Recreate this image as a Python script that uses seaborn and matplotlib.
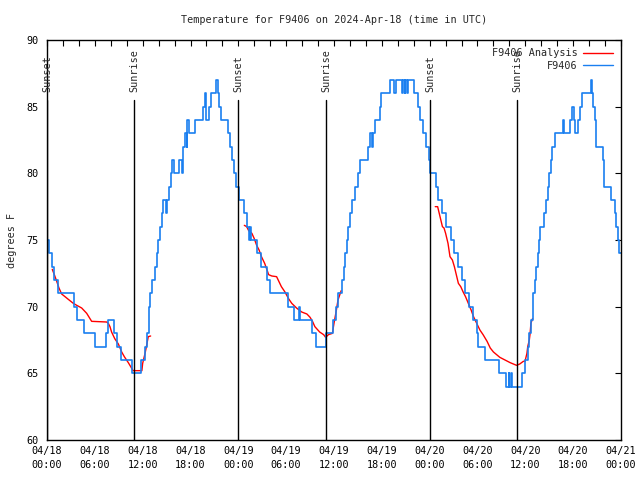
import matplotlib
matplotlib.use("Agg")
import matplotlib.pyplot as plt
import matplotlib.transforms as mtransforms
import seaborn as sns
import pandas as pd

# ---- data (hours since 2024-04-18 00:00 UTC) ----
obs_hours = [0.0, 0.3, 0.6, 0.9, 1.4, 3.4, 3.8, 4.7, 6.0, 7.35, 7.6, 8.4, 8.8, 9.3, 10.6,
             11.85, 12.3, 12.6, 12.75, 12.95, 13.2, 13.5, 13.75, 13.9, 14.2, 14.45, 14.6, 14.9,
             15.1, 15.3, 15.5, 15.7, 15.9, 16.6, 16.9, 17.1, 17.3, 17.5, 17.6, 17.8, 18.6, 19.6,
             19.85, 20.0, 20.3, 20.6, 21.2, 21.4, 21.6, 21.8, 22.7, 23.0, 23.2, 23.45, 23.7,
             24.1, 24.75, 25.1, 25.3, 25.5, 25.6, 26.4, 26.9, 27.6, 28.0, 30.2, 31.0, 31.6, 31.75,
             33.2, 33.7, 35.0, 35.9, 36.3, 36.5, 37.0, 37.2, 37.4, 37.6, 37.8, 38.0, 38.2, 38.6,
             39.05, 39.3, 40.3, 40.5, 40.8, 40.9, 41.1, 41.8, 41.9, 43.0, 43.5, 43.75, 44.5, 44.65,
             44.85, 44.95, 45.15, 45.3, 46.0, 46.5, 46.8, 47.2, 47.5, 47.9, 48.1, 48.75, 49.0,
             49.5, 50.1, 50.7, 51.1, 51.6, 52.1, 52.4, 52.9, 53.4, 53.9, 54.1, 55.0, 56.65, 57.6,
             57.9, 58.0, 58.2, 58.3, 59.6, 60.0, 60.3, 60.5, 60.7, 60.9, 61.0, 61.2, 61.4, 61.6,
             61.75, 61.9, 62.3, 62.6, 62.8, 63.0, 63.2, 63.4, 63.7, 64.7, 64.9, 65.6, 65.9, 66.1,
             66.2, 66.6, 66.9, 67.1, 68.2, 68.4, 68.5, 68.7, 68.9, 69.7, 69.9, 70.7, 71.2, 71.4,
             71.6, 71.8, 72.0]
obs_temps = [75, 74, 73, 72, 71, 70, 69, 68, 67, 68, 69, 68, 67, 66, 65,
             66, 67, 68, 70, 71, 72, 73, 74, 75, 76, 77, 78, 77,
             78, 79, 80, 81, 80, 81, 80, 82, 83, 82, 84, 83, 84, 85,
             86, 84, 85, 86, 87, 86, 85, 84, 83, 82, 81, 80, 79,
             78, 77, 76, 75, 76, 75, 74, 73, 72, 71, 70, 69, 70, 69,
             68, 67, 68, 69, 70, 71, 72, 73, 74, 75, 76, 77, 78, 79,
             80, 81, 82, 83, 82, 83, 84, 85, 86, 87, 86, 87, 86, 87,
             86, 87, 86, 87, 86, 85, 84, 83, 82, 81, 80, 79, 78,
             77, 76, 75, 74, 73, 72, 71, 70, 69, 68, 67, 66, 65, 64,
             65, 64, 65, 64, 65, 66, 67, 68, 69, 70, 71, 72, 73, 74,
             75, 76, 77, 78, 79, 80, 81, 82, 83, 84, 83, 84, 85, 84,
             83, 84, 85, 86, 87, 86, 85, 84, 82, 81, 79, 78, 77, 76,
             75, 74, 74]

ana1_hours = [0.66, 0.92, 1.22, 1.5, 1.84, 2.26, 2.67, 3.3, 3.73, 4.35, 4.98, 5.6, 7.49, 7.69,
              7.9, 8.1, 8.5, 8.95, 9.37, 9.7, 10.2, 10.6, 10.8, 11.9, 12.0, 12.3, 12.5, 12.7, 13.0]
ana1_temps = [72.8, 72.4, 71.9, 71.4, 70.95, 70.75, 70.55, 70.25, 70.1, 69.9, 69.5, 68.9, 68.85, 68.75,
              68.5, 68.1, 67.6, 67.2, 66.6, 66.25, 65.8, 65.4, 65.2, 65.2, 65.75, 66.5, 67.1, 67.75, 67.8]
ana2_hours = [24.75, 25.05, 25.3, 25.7, 26.0, 26.3, 26.6, 26.9, 27.3, 27.6, 27.8, 28.2, 28.8, 29.0,
              29.4, 29.85, 30.3, 30.7, 31.3, 31.95, 32.6, 33.0, 33.3, 33.6, 34.2, 34.7, 34.95, 35.3,
              35.8, 36.0, 36.3, 36.5, 36.9]
ana2_temps = [76.1, 76.0, 75.7, 75.5, 75.1, 74.6, 74.25, 73.75, 73.25, 72.75, 72.4, 72.3, 72.25, 72.0,
              71.5, 71.1, 70.6, 70.25, 69.9, 69.6, 69.45, 69.2, 68.9, 68.5, 68.1, 67.9, 67.7, 67.9,
              68.0, 68.75, 69.75, 70.5, 71.2]
ana3_hours = [48.7, 49.0, 49.2, 49.4, 49.6, 49.8, 50.0, 50.3, 50.55, 50.85, 51.1, 51.4, 51.6, 51.9,
              52.2, 52.5, 52.85, 53.2, 53.5, 53.9, 54.3, 54.7, 55.2, 55.6, 56.0, 56.4, 56.8, 57.45,
              58.1, 58.5, 58.9, 59.3, 59.75, 59.96, 60.2, 60.3, 60.5, 60.6, 60.7, 60.9]
ana3_temps = [77.5, 77.5, 77.0, 76.5, 76.0, 75.9, 75.5, 74.75, 73.75, 73.5, 73.0, 72.25, 71.75, 71.5,
              71.1, 70.75, 70.25, 69.75, 69.25, 68.75, 68.25, 67.9, 67.4, 66.9, 66.6, 66.4, 66.2, 66.0,
              65.8, 65.7, 65.6, 65.7, 65.9, 65.9, 66.5, 67.0, 67.5, 68.0, 68.75, 69.1]

sun_hours = [0.0, 10.92, 23.96, 35.0, 48.06, 58.97]
sun_labels = ["Sunset", "Sunrise", "Sunset", "Sunrise", "Sunset", "Sunrise"]

xtick_hours = [0, 6, 12, 18, 24, 30, 36, 42, 48, 54, 60, 66, 72]
xtick_labels = ["04/18\n00:00", "04/18\n06:00", "04/18\n12:00", "04/18\n18:00",
                "04/19\n00:00", "04/19\n06:00", "04/19\n12:00", "04/19\n18:00",
                "04/20\n00:00", "04/20\n06:00", "04/20\n12:00", "04/20\n18:00",
                "04/21\n00:00"]
ytick_vals = [60, 65, 70, 75, 80, 85, 90]

# ---- frames ----
obs_df = pd.DataFrame({"hour": obs_hours, "temp": obs_temps})
ana_df = pd.concat([
    pd.DataFrame({"hour": ana1_hours, "temp": ana1_temps, "seg": 1}),
    pd.DataFrame({"hour": ana2_hours, "temp": ana2_temps, "seg": 2}),
    pd.DataFrame({"hour": ana3_hours, "temp": ana3_temps, "seg": 3}),
], ignore_index=True)

sns.set_theme(style="white")
FONT = ["DejaVu Sans Mono"]
plt.rcParams["font.family"] = FONT
FS = 7.3

fig = plt.figure(figsize=(6.4, 4.8), dpi=100)
ax = fig.add_axes([47 / 640, 40 / 480, 574 / 640, 400 / 480])

RED = "#ff0000"
BLUE = "#1a7ff0"

sns.lineplot(data=ana_df, x="hour", y="temp", units="seg", estimator=None,
             color=RED, lw=1.0, ax=ax, sort=False)
sns.lineplot(data=obs_df, x="hour", y="temp", color=BLUE, lw=1.2, ax=ax,
             drawstyle="steps-post", estimator=None, sort=False)

trans = mtransforms.blended_transform_factory(ax.transData, ax.transAxes)
for h, lab in zip(sun_hours, sun_labels):
    ax.axvline(h, ymin=0, ymax=0.85, color="black", lw=1.0)
    ax.text(h, 0.87, lab, transform=trans, rotation=90, ha="center", va="bottom",
            fontsize=FS, clip_on=False)

ax.set_xlim(0, 72)
ax.set_ylim(60, 90)
ax.set_xticks(xtick_hours)
ax.set_xticklabels(xtick_labels, fontsize=FS, linespacing=1.6)
ax.set_xticks(list(range(0, 73, 2)), minor=True)
ax.set_yticks(ytick_vals)
ax.set_yticklabels([str(v) for v in ytick_vals], fontsize=FS)
ax.tick_params(axis="both", which="both", direction="in", top=True, right=True,
               length=4, width=0.8, color="black", labelcolor="black", pad=4)
ax.tick_params(axis="y", which="both", pad=6)
ax.set_xlabel("")
ax.set_ylabel("degrees F", fontsize=FS, labelpad=7)
for s in ax.spines.values():
    s.set_color("black")
    s.set_linewidth(1.0)

fig.suptitle("Temperature for F9406 on 2024-Apr-18 (time in UTC)", fontsize=FS, y=0.968, x=0.522)

from matplotlib.lines import Line2D
handles = [Line2D([], [], color=RED, lw=1.0), Line2D([], [], color=BLUE, lw=1.0)]
leg = ax.legend(handles, ["F9406 Analysis", "F9406"], loc="upper right", frameon=False,
                markerfirst=False, fontsize=FS, handlelength=2.9, borderaxespad=0.4,
                labelspacing=0.25, handletextpad=0.6)

fig.savefig("out.png", dpi=100)
